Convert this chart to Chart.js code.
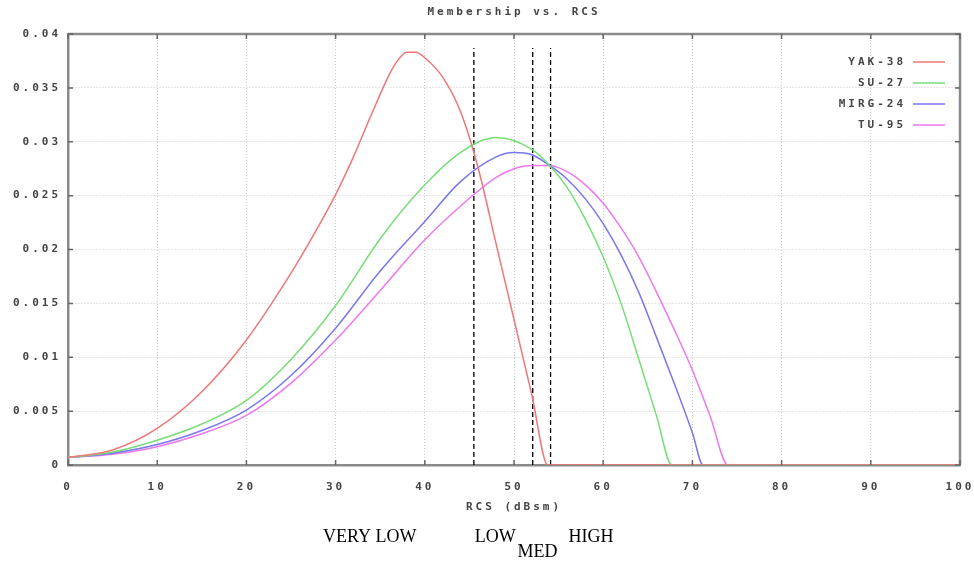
<!DOCTYPE html>
<html>
<head>
<meta charset="utf-8">
<script src="https://cdn.jsdelivr.net/npm/chart.js@4"></script>
<style>
  html, body { margin: 0; padding: 0; background: #fff; }
  canvas { display: block; }
</style>
</head>
<body>
<canvas id="grafico" width="974" height="561"></canvas>
<script>
// Membership curves for each aircraft against RCS (dBsm)
const seriesNames = ['YAK-38', 'SU-27', 'MIRG-24', 'TU-95'];

const yakX = [0, 5, 10, 15, 20, 25, 27.5, 30, 32, 34, 36, 37, 38, 39, 40, 42, 44, 46, 48, 50, 52, 53.8, 100];
const yakY = [0.0007, 0.0014, 0.0034, 0.0068, 0.0116, 0.0178, 0.0213, 0.0251, 0.0286, 0.0325, 0.0362, 0.0376, 0.0383, 0.0383, 0.0378, 0.0360, 0.0328, 0.0275, 0.0205, 0.0135, 0.0065, 0, 0];

const suX = [0, 5, 10, 15, 20, 25, 30, 35, 40, 44, 48, 52, 54, 56, 58, 60, 62, 64, 66, 67.7, 100];
const suY = [0.0007, 0.0012, 0.0023, 0.0038, 0.0060, 0.0098, 0.0148, 0.0210, 0.0260, 0.0290, 0.0304, 0.0293, 0.0278, 0.0257, 0.0228, 0.0193, 0.0150, 0.0098, 0.0045, 0, 0];

const mirgX = [0, 5, 10, 15, 20, 25, 30, 35, 40, 44, 48, 50, 52, 54, 56, 58, 60, 62, 64, 66, 68, 70, 71.2, 100];
const mirgY = [0.0007, 0.0011, 0.0019, 0.0032, 0.0051, 0.0083, 0.0127, 0.0180, 0.0226, 0.0263, 0.0286, 0.0290, 0.0288, 0.0278, 0.0265, 0.0247, 0.0224, 0.0195, 0.0160, 0.0118, 0.0075, 0.0030, 0, 0];

const tuX = [0, 5, 10, 15, 20, 25, 30, 35, 40, 45.5, 48, 50, 52, 54, 56, 58, 60, 62, 64, 66, 68, 70, 72, 74, 100];
const tuY = [0.0007, 0.0010, 0.0017, 0.0029, 0.0046, 0.0076, 0.0116, 0.0162, 0.0209, 0.0251, 0.0267, 0.0275, 0.0278, 0.0278, 0.0272, 0.0260, 0.0243, 0.0220, 0.0193, 0.0160, 0.0125, 0.0088, 0.0045, 0, 0];

// RCS thresholds separating the classes
const cutPoints = [45.5, 52.1, 54.1];
const cutTop = 0.0387;

const zoneNames = ['VERY LOW', 'LOW', 'MED', 'HIGH'];
const zoneStart = [28.6, 45.6, 50.4, 56.1];

const colores = ['#ee7777', '#77dd77', '#7777ee', '#ee77ee'];
const monoFont = '"DejaVu Sans Mono", monospace';
const espaciado = '3px';
const gris = '#444';

function pares(xs, ys) {
    return xs.map((x, i) => ({ x: x, y: ys[i] }));
}

const curvas = [[yakX, yakY], [suX, suY], [mirgX, mirgY], [tuX, tuY]].map((s, i) => ({
    label: seriesNames[i],
    data: pares(s[0], s[1]),
    borderColor: colores[i],
    borderWidth: 1.5,
    pointRadius: 0,
    cubicInterpolationMode: 'monotone',
    fill: false
}));

const cortes = cutPoints.map(c => ({
    label: '',
    data: [{ x: c, y: 0 }, { x: c, y: cutTop }],
    borderColor: '#000',
    borderWidth: 1.3,
    borderDash: [5, 3],
    pointRadius: 0,
    isCut: true
}));

const marco = {
    id: 'marco',
    beforeUpdate(chart) { chart.ctx.letterSpacing = espaciado; },
    beforeDraw(chart) { chart.ctx.letterSpacing = espaciado; },
    afterDraw(chart) {
        const ctx = chart.ctx;
        const a = chart.chartArea;
        const xs = chart.scales.x, ys = chart.scales.y;
        ctx.save();

        // top and right border plus inner tick marks
        ctx.strokeStyle = '#8a8a8a';
        ctx.lineWidth = 2.5;
        ctx.beginPath();
        ctx.moveTo(a.left, a.top);
        ctx.lineTo(a.right, a.top);
        ctx.lineTo(a.right, a.bottom);
        ctx.stroke();
        ctx.lineWidth = 1.5;
        ctx.strokeStyle = '#666';
        ctx.beginPath();
        xs.ticks.forEach(t => {
            const px = xs.getPixelForValue(t.value);
            ctx.moveTo(px, a.bottom); ctx.lineTo(px, a.bottom - 5);
            ctx.moveTo(px, a.top); ctx.lineTo(px, a.top + 5);
        });
        ys.ticks.forEach(t => {
            const py = ys.getPixelForValue(t.value);
            ctx.moveTo(a.left, py); ctx.lineTo(a.left + 5, py);
            ctx.moveTo(a.right, py); ctx.lineTo(a.right - 5, py);
        });
        ctx.stroke();

        // title
        ctx.letterSpacing = espaciado;
        ctx.font = 'bold 11px ' + monoFont;
        ctx.fillStyle = gris;
        ctx.textAlign = 'center';
        ctx.textBaseline = 'middle';
        ctx.fillText('Membership vs. RCS', (a.left + a.right) / 2, 12);

        // legend, text right aligned with sample line after it
        ctx.textAlign = 'right';
        chart.data.datasets.forEach((ds, i) => {
            if (ds.isCut) return;
            const y = a.top + 28 + i * 21;
            ctx.fillStyle = gris;
            ctx.fillText(ds.label, a.right - 54, y);
            ctx.strokeStyle = ds.borderColor;
            ctx.lineWidth = 1.5;
            ctx.beginPath();
            ctx.moveTo(a.right - 47, y);
            ctx.lineTo(a.right - 15, y);
            ctx.stroke();
        });

        // class names under the axis
        ctx.letterSpacing = '0px';
        ctx.font = '18px "Liberation Serif", "Times New Roman", serif';
        ctx.fillStyle = '#000';
        ctx.textAlign = 'left';
        ctx.textBaseline = 'alphabetic';
        zoneNames.forEach((n, i) => {
            const baja = n === 'MED' ? 92 : 77;
            ctx.fillText(n, xs.getPixelForValue(zoneStart[i]), a.bottom + baja);
        });
        ctx.restore();
    }
};

const tickFont = { family: monoFont, size: 11, weight: 'bold' };

const ctx = document.getElementById('grafico').getContext('2d');
window.graficoGenerado = new Chart(ctx, {
    type: 'line',
    data: { datasets: curvas.concat(cortes) },
    plugins: [marco],
    options: {
        responsive: false,
        animation: false,
        layout: { padding: { left: 0, right: 14, top: 34, bottom: 43 } },
        plugins: {
            legend: { display: false },
            title: { display: false },
            tooltip: { enabled: false }
        },
        scales: {
            x: {
                type: 'linear',
                min: 0,
                max: 100,
                ticks: {
                    stepSize: 10,
                    padding: 16,
                    maxRotation: 0,
                    color: gris,
                    font: tickFont
                },
                grid: {
                    color: 'rgba(0,0,0,0.2)',
                    drawTicks: false
                },
                border: { color: '#8a8a8a', width: 2.5, dash: [1, 2] },
                title: {
                    display: true,
                    text: 'RCS (dBsm)',
                    color: gris,
                    padding: { top: 0, bottom: 4 },
                    font: tickFont
                },
                afterFit: s => {
                    s.height = 53;
                    s.paddingLeft = 0;
                    s.paddingRight = 0;
                }
            },
            y: {
                min: 0,
                max: 0.04,
                ticks: {
                    stepSize: 0.005,
                    padding: 7,
                    color: gris,
                    font: tickFont,
                    callback: v => String(+v.toFixed(3))
                },
                grid: {
                    color: 'rgba(0,0,0,0.2)',
                    drawTicks: false
                },
                border: { color: '#8a8a8a', width: 2.5, dash: [1, 2] },
                afterFit: s => { s.width = 68; }
            }
        }
    }
});
</script>
</body>
</html>
